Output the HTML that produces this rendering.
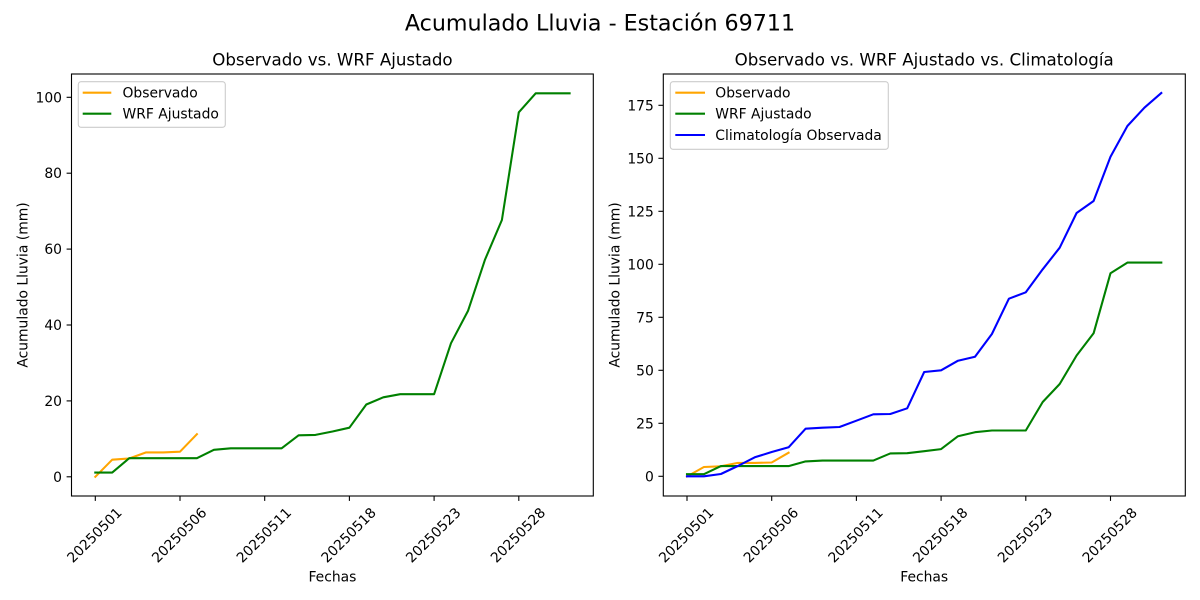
<!DOCTYPE html>
<html>
<head>
<meta charset="utf-8">
<style>
html,body{margin:0;padding:0;background:#fff;}
svg{display:block;}
text{font-family:"DejaVu Sans","Liberation Sans",sans-serif;fill:#000;}
</style>
</head>
<body>
<svg width="1200" height="600" viewBox="0 0 1200 600" xmlns="http://www.w3.org/2000/svg">
<rect x="0" y="0" width="1200" height="600" fill="#fff"/>

<!-- Suptitle -->
<text x="600" y="30.5" font-size="22.2" text-anchor="middle">Acumulado Lluvia - Estación 69711</text>

<!-- ================= LEFT AXES ================= -->
<text x="332.4" y="65.5" font-size="16.67" text-anchor="middle">Observado vs. WRF Ajustado</text>

<!-- data -->
<polyline fill="none" stroke="#FFA500" stroke-width="2.08" stroke-linejoin="round" stroke-linecap="square"
 points="95.3,476.8 112.2,459.7 129.2,458.5 146.1,452.4 163.1,452.4 180.0,451.7 196.9,434.2"/>
<polyline fill="none" stroke="#008000" stroke-width="2.08" stroke-linejoin="round" stroke-linecap="square"
 points="95.3,472.6 112.2,472.6 129.2,458.2 146.1,458.2 163.1,458.2 180.0,458.2 196.9,458.2 213.9,449.8 230.8,448.3 247.8,448.3 264.7,448.3 281.6,448.3 298.6,435.3 315.5,434.9 332.5,431.5 349.4,427.7 366.3,404.5 383.3,397.3 400.2,394.2 417.2,394.2 434.1,394.2 451.0,343.2 468.0,310.9 484.9,259.9 501.9,220.0 518.8,112.3 535.7,93.3 552.7,93.3 569.6,93.3"/>

<!-- spines -->
<rect x="71.5" y="74" width="521.8" height="422" fill="none" stroke="#000" stroke-width="1.1"/>

<!-- y ticks -->
<g stroke="#000" stroke-width="1.1">
<line x1="66.6" y1="476.8" x2="71.5" y2="476.8"/>
<line x1="66.6" y1="400.9" x2="71.5" y2="400.9"/>
<line x1="66.6" y1="325.0" x2="71.5" y2="325.0"/>
<line x1="66.6" y1="249.1" x2="71.5" y2="249.1"/>
<line x1="66.6" y1="173.2" x2="71.5" y2="173.2"/>
<line x1="66.6" y1="97.3" x2="71.5" y2="97.3"/>
</g>
<g font-size="13.89" text-anchor="end">
<text x="62" y="481.8">0</text>
<text x="62" y="405.9">20</text>
<text x="62" y="330.0">40</text>
<text x="62" y="254.1">60</text>
<text x="62" y="178.2">80</text>
<text x="62" y="102.3">100</text>
</g>

<!-- x ticks -->
<g stroke="#000" stroke-width="1.1">
<line x1="95.3" y1="496" x2="95.3" y2="500.9"/>
<line x1="180.0" y1="496" x2="180.0" y2="500.9"/>
<line x1="264.7" y1="496" x2="264.7" y2="500.9"/>
<line x1="349.4" y1="496" x2="349.4" y2="500.9"/>
<line x1="434.1" y1="496" x2="434.1" y2="500.9"/>
<line x1="518.8" y1="496" x2="518.8" y2="500.9"/>
</g>
<g font-size="13.89" text-anchor="middle">
<text transform="translate(94.3,535) rotate(-45)" dy="5">20250501</text>
<text transform="translate(179.0,535) rotate(-45)" dy="5">20250506</text>
<text transform="translate(263.7,535) rotate(-45)" dy="5">20250511</text>
<text transform="translate(348.4,535) rotate(-45)" dy="5">20250518</text>
<text transform="translate(433.1,535) rotate(-45)" dy="5">20250523</text>
<text transform="translate(517.8,535) rotate(-45)" dy="5">20250528</text>
</g>

<text x="332.4" y="581.7" font-size="13.89" text-anchor="middle">Fechas</text>
<text transform="translate(27.5,285) rotate(-90)" font-size="13.89" text-anchor="middle">Acumulado Lluvia (mm)</text>

<!-- legend left -->
<rect x="78.3" y="81.7" width="147" height="45.6" rx="2.8" ry="2.8" fill="#fff" fill-opacity="0.8" stroke="#cccccc" stroke-width="1.1"/>
<line x1="82.7" y1="92.7" x2="111.3" y2="92.7" stroke="#FFA500" stroke-width="2.08"/>
<line x1="82.7" y1="113.7" x2="111.3" y2="113.7" stroke="#008000" stroke-width="2.08"/>
<text x="122.5" y="97.7" font-size="13.89">Observado</text>
<text x="122.5" y="118.7" font-size="13.89">WRF Ajustado</text>

<!-- ================= RIGHT AXES ================= -->
<text x="924.2" y="65.5" font-size="16.67" text-anchor="middle">Observado vs. WRF Ajustado vs. Climatología</text>

<polyline fill="none" stroke="#FFA500" stroke-width="2.08" stroke-linejoin="round" stroke-linecap="square"
 points="687.0,476.5 703.9,467.0 720.9,466.3 737.8,462.9 754.8,462.9 771.7,462.5 788.6,452.7"/>
<polyline fill="none" stroke="#008000" stroke-width="2.08" stroke-linejoin="round" stroke-linecap="square"
 points="687.0,474.2 703.9,474.2 720.9,466.1 737.8,466.1 754.8,466.1 771.7,466.1 788.6,466.1 805.6,461.4 822.5,460.6 839.5,460.6 856.4,460.6 873.3,460.6 890.3,453.4 907.2,453.2 924.2,451.2 941.1,449.1 958.0,436.2 975.0,432.2 991.9,430.5 1008.9,430.5 1025.8,430.5 1042.7,402.0 1059.7,384.0 1076.6,355.5 1093.6,333.3 1110.5,273.2 1127.4,262.6 1144.4,262.6 1161.3,262.6"/>
<polyline fill="none" stroke="#0000FF" stroke-width="2.08" stroke-linejoin="round" stroke-linecap="square"
 points="687.0,476.3 703.9,476.3 720.9,474.0 737.8,466.0 754.8,457.3 771.7,452.0 788.6,447.3 805.6,428.7 822.5,427.7 839.5,427.0 856.4,420.7 873.3,414.3 890.3,414.0 907.2,408.3 924.2,372.0 941.1,370.3 958.0,360.7 975.0,356.7 991.9,334.0 1008.9,298.7 1025.8,292.3 1042.7,269.3 1059.7,247.7 1076.6,213.0 1093.6,201.0 1110.5,156.7 1127.4,126.0 1144.4,107.7 1161.3,93.0"/>

<rect x="663.3" y="74" width="522" height="422" fill="none" stroke="#000" stroke-width="1.1"/>

<g stroke="#000" stroke-width="1.1">
<line x1="658.4" y1="476.3" x2="663.3" y2="476.3"/>
<line x1="658.4" y1="423.3" x2="663.3" y2="423.3"/>
<line x1="658.4" y1="370.3" x2="663.3" y2="370.3"/>
<line x1="658.4" y1="317.3" x2="663.3" y2="317.3"/>
<line x1="658.4" y1="264.3" x2="663.3" y2="264.3"/>
<line x1="658.4" y1="211.3" x2="663.3" y2="211.3"/>
<line x1="658.4" y1="158.3" x2="663.3" y2="158.3"/>
<line x1="658.4" y1="105.3" x2="663.3" y2="105.3"/>
</g>
<g font-size="13.89" text-anchor="end">
<text x="653.8" y="481.3">0</text>
<text x="653.8" y="428.3">25</text>
<text x="653.8" y="375.3">50</text>
<text x="653.8" y="322.3">75</text>
<text x="653.8" y="269.3">100</text>
<text x="653.8" y="216.3">125</text>
<text x="653.8" y="163.3">150</text>
<text x="653.8" y="110.3">175</text>
</g>

<g stroke="#000" stroke-width="1.1">
<line x1="687.0" y1="496" x2="687.0" y2="500.9"/>
<line x1="771.7" y1="496" x2="771.7" y2="500.9"/>
<line x1="856.4" y1="496" x2="856.4" y2="500.9"/>
<line x1="941.1" y1="496" x2="941.1" y2="500.9"/>
<line x1="1025.8" y1="496" x2="1025.8" y2="500.9"/>
<line x1="1110.5" y1="496" x2="1110.5" y2="500.9"/>
</g>
<g font-size="13.89" text-anchor="middle">
<text transform="translate(686.0,535) rotate(-45)" dy="5">20250501</text>
<text transform="translate(770.7,535) rotate(-45)" dy="5">20250506</text>
<text transform="translate(855.4,535) rotate(-45)" dy="5">20250511</text>
<text transform="translate(940.1,535) rotate(-45)" dy="5">20250518</text>
<text transform="translate(1024.8,535) rotate(-45)" dy="5">20250523</text>
<text transform="translate(1109.5,535) rotate(-45)" dy="5">20250528</text>
</g>

<text x="924.2" y="581.7" font-size="13.89" text-anchor="middle">Fechas</text>
<text transform="translate(619.3,285) rotate(-90)" font-size="13.89" text-anchor="middle">Acumulado Lluvia (mm)</text>

<!-- legend right -->
<rect x="670.3" y="81.7" width="218" height="67.6" rx="2.8" ry="2.8" fill="#fff" fill-opacity="0.8" stroke="#cccccc" stroke-width="1.1"/>
<line x1="675.3" y1="92.7" x2="705" y2="92.7" stroke="#FFA500" stroke-width="2.08"/>
<line x1="675.3" y1="113.7" x2="705" y2="113.7" stroke="#008000" stroke-width="2.08"/>
<line x1="675.3" y1="135" x2="705" y2="135" stroke="#0000FF" stroke-width="2.08"/>
<text x="715.3" y="97.7" font-size="13.89">Observado</text>
<text x="715.3" y="118.7" font-size="13.89">WRF Ajustado</text>
<text x="715.3" y="140" font-size="13.89">Climatología Observada</text>
</svg>
</body>
</html>
